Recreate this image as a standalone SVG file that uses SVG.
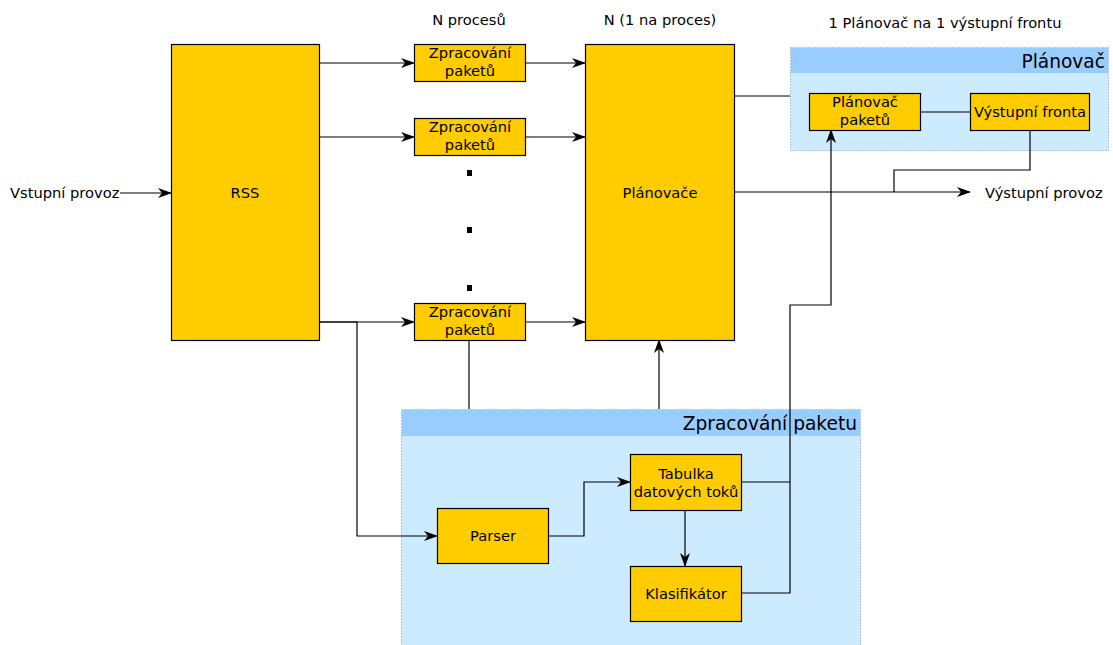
<svg xmlns="http://www.w3.org/2000/svg" width="1113" height="645" viewBox="0 0 1113 645">
<style>
text{font-family:"DejaVu Sans",sans-serif;font-size:14.67px;fill:#000}
.c{text-anchor:middle}
.t{font-size:18.6px;text-anchor:end}
.n{fill:#FFCC00;stroke:#000;stroke-width:1.2}
.ln{fill:none;stroke:#000;stroke-width:1.2}
.a{marker-end:url(#ar)}
.cb{fill:#CCEBFF;stroke:#7A8FB0;stroke-width:1;stroke-dasharray:1 2}
.ch{fill:#99CCFF}
</style>
<defs>
<marker id="ar" viewBox="0 0 14 10" refX="13" refY="5" markerWidth="14" markerHeight="10" markerUnits="userSpaceOnUse" orient="auto">
<path d="M0,0 L14,5 L0,10 L4,5 Z" fill="#000"/>
</marker>
</defs>
<rect width="1113" height="645" fill="#fff"/>
<g id="containers">
<g id="planovac-group">
<rect class="cb" x="790.5" y="47.5" width="318" height="103"/>
<rect class="ch" x="791" y="48" width="317" height="25"/>
<text class="t" x="1105" y="68">Plánovač</text>
</g>
<g id="zpracovani-group">
<rect class="cb" x="401.5" y="409.5" width="459" height="240"/>
<rect class="ch" x="402" y="410" width="458" height="26"/>
<text class="t" x="857" y="430">Zpracování paketu</text>
</g>
</g>
<g id="connectors">
<path class="ln a" d="M120,193 H171"/>
<path class="ln a" d="M319,63 H414"/>
<path class="ln a" d="M319,137 H414"/>
<path class="ln a" d="M319,322 H414"/>
<path class="ln a" d="M525,63 H585"/>
<path class="ln a" d="M525,137 H585"/>
<path class="ln a" d="M525,322 H585"/>
<path class="ln a" d="M319,322 H357 V536 H437"/>
<path class="ln" d="M469,340 V409"/>
<path class="ln a" d="M659,409 V340"/>
<path class="ln" d="M734,96 H790"/>
<path class="ln" d="M920,112 H970"/>
<path class="ln a" d="M734,192 H970"/>
<path class="ln" d="M1030,130 V170 H894 V192"/>
<path class="ln a" d="M548,536 H584 V482 H630"/>
<path class="ln a" d="M685,510 V566"/>
<path class="ln" d="M741,482 H790"/>
<path class="ln a" d="M741,593 H790 V305 H831 V130"/>
</g>
<g id="labels">
<text x="10" y="198">Vstupní provoz</text>
<text x="985" y="198">Výstupní provoz</text>
<text class="c" x="469" y="25">N procesů</text>
<text class="c" x="660" y="25">N (1 na proces)</text>
<text class="c" x="945" y="28">1 Plánovač na 1 výstupní frontu</text>
</g>
<g id="rss"><rect class="n" x="171.5" y="44.5" width="148" height="296"/><text class="c" x="245" y="198">RSS</text></g>
<g id="zp1"><rect class="n" x="414.5" y="44.5" width="111" height="37"/><text class="c" x="470" y="58">Zpracování</text><text class="c" x="470" y="76">paketů</text></g>
<g id="zp2"><rect class="n" x="414.5" y="118.5" width="111" height="37"/><text class="c" x="470" y="132">Zpracování</text><text class="c" x="470" y="150">paketů</text></g>
<g id="zp3"><rect class="n" x="414.5" y="303.5" width="111" height="37"/><text class="c" x="470" y="317">Zpracování</text><text class="c" x="470" y="335">paketů</text></g>
<g id="dots">
<rect x="467" y="170" width="5" height="6" fill="#000"/>
<rect x="467" y="227" width="5" height="6" fill="#000"/>
<rect x="467" y="285" width="5" height="6" fill="#000"/>
</g>
<g id="planovace"><rect class="n" x="585.5" y="44.5" width="149" height="296"/><text class="c" x="660" y="198">Plánovače</text></g>
<g id="planovac-paketu"><rect class="n" x="809.5" y="93.5" width="111" height="37"/><text class="c" x="865" y="107">Plánovač</text><text class="c" x="865" y="125">paketů</text></g>
<g id="vystupni-fronta"><rect class="n" x="970.5" y="93.5" width="119" height="37"/><text class="c" x="1030" y="117">Výstupní fronta</text></g>
<g id="parser"><rect class="n" x="437.5" y="508.5" width="111" height="55"/><text class="c" x="493" y="541">Parser</text></g>
<g id="tabulka"><rect class="n" x="630.5" y="454.5" width="111" height="56"/><text class="c" x="686" y="479">Tabulka</text><text class="c" x="686" y="497">datových toků</text></g>
<g id="klasifikator"><rect class="n" x="630.5" y="566.5" width="111" height="55"/><text class="c" x="686" y="599">Klasifikátor</text></g>
</svg>
